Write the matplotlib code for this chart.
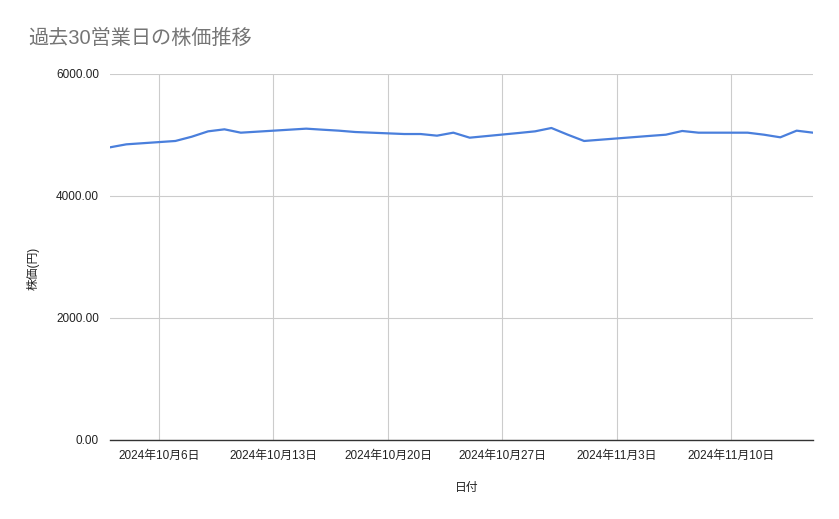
import matplotlib
matplotlib.use("Agg")
import matplotlib.pyplot as plt
import matplotlib.dates as mdates
import numpy as np
from datetime import date

plt.rcParams['font.family'] = ['Liberation Sans', 'Noto Sans CJK JP', 'DejaVu Sans']

# 営業日 (10/14, 11/4 は祝日)
dates = [
    "2024-10-03", "2024-10-04", "2024-10-07", "2024-10-08", "2024-10-09",
    "2024-10-10", "2024-10-11", "2024-10-15", "2024-10-16", "2024-10-17",
    "2024-10-18", "2024-10-21", "2024-10-22", "2024-10-23", "2024-10-24",
    "2024-10-25", "2024-10-28", "2024-10-29", "2024-10-30", "2024-10-31",
    "2024-11-01", "2024-11-05", "2024-11-06", "2024-11-07", "2024-11-08",
    "2024-11-11", "2024-11-12", "2024-11-13", "2024-11-14", "2024-11-15",
]
prices = [
    4798, 4847, 4902, 4972, 5060,
    5093, 5038, 5104, 5087, 5071,
    5049, 5016, 5016, 4989, 5038,
    4956, 5033, 5060, 5115, 5005,
    4902, 4985, 5005, 5066, 5038,
    5038, 5005, 4962, 5071, 5038,
]
tick_dates = ["2024-10-06", "2024-10-13", "2024-10-20", "2024-10-27", "2024-11-03", "2024-11-10"]
tick_labels = ["2024年10月6日", "2024年10月13日", "2024年10月20日",
               "2024年10月27日", "2024年11月3日", "2024年11月10日"]
y_ticks = [0, 2000, 4000, 6000]

x = np.array(dates, dtype="datetime64[D]")
xt = np.array(tick_dates, dtype="datetime64[D]")

fig = plt.figure(figsize=(8.39, 5.19), dpi=100)
ax = fig.add_axes([110 / 839, 79 / 519, 703 / 839, 366 / 519])

ax.plot(x, prices, color="#4a7fdc", lw=1.6, zorder=3)

ax.set_xlim(x[0], x[-1])
ax.set_ylim(0, 6000)
ax.set_xticks(xt)
ax.set_xticklabels(tick_labels)
ax.set_yticks(y_ticks)
ax.set_yticklabels([f"{v:.2f}" for v in y_ticks])

ax.grid(True, color="#cccccc", lw=0.8)
ax.set_axisbelow(True)
for s in ["top", "right", "left"]:
    ax.spines[s].set_visible(False)
ax.spines["bottom"].set_color("#333333")
ax.spines["bottom"].set_linewidth(1.0)
ax.tick_params(axis="both", length=0, labelsize=8.5, colors="#222222")
ax.tick_params(axis="x", pad=7)
ax.tick_params(axis="y", pad=8)

fig.text(28 / 839, 1 - 38 / 519, "過去30営業日の株価推移", fontsize=14.5,
         color="#757575", va="center", ha="left")
fig.text(467 / 839, 1 - 488 / 519, "日付", fontsize=8.5, color="#222222",
         ha="center", va="center")
fig.text(33 / 839, 1 - 268 / 519, "株価(円)", fontsize=8.5, color="#222222",
         ha="center", va="center", rotation=90)

fig.savefig("out.png", dpi=100, facecolor="white")
